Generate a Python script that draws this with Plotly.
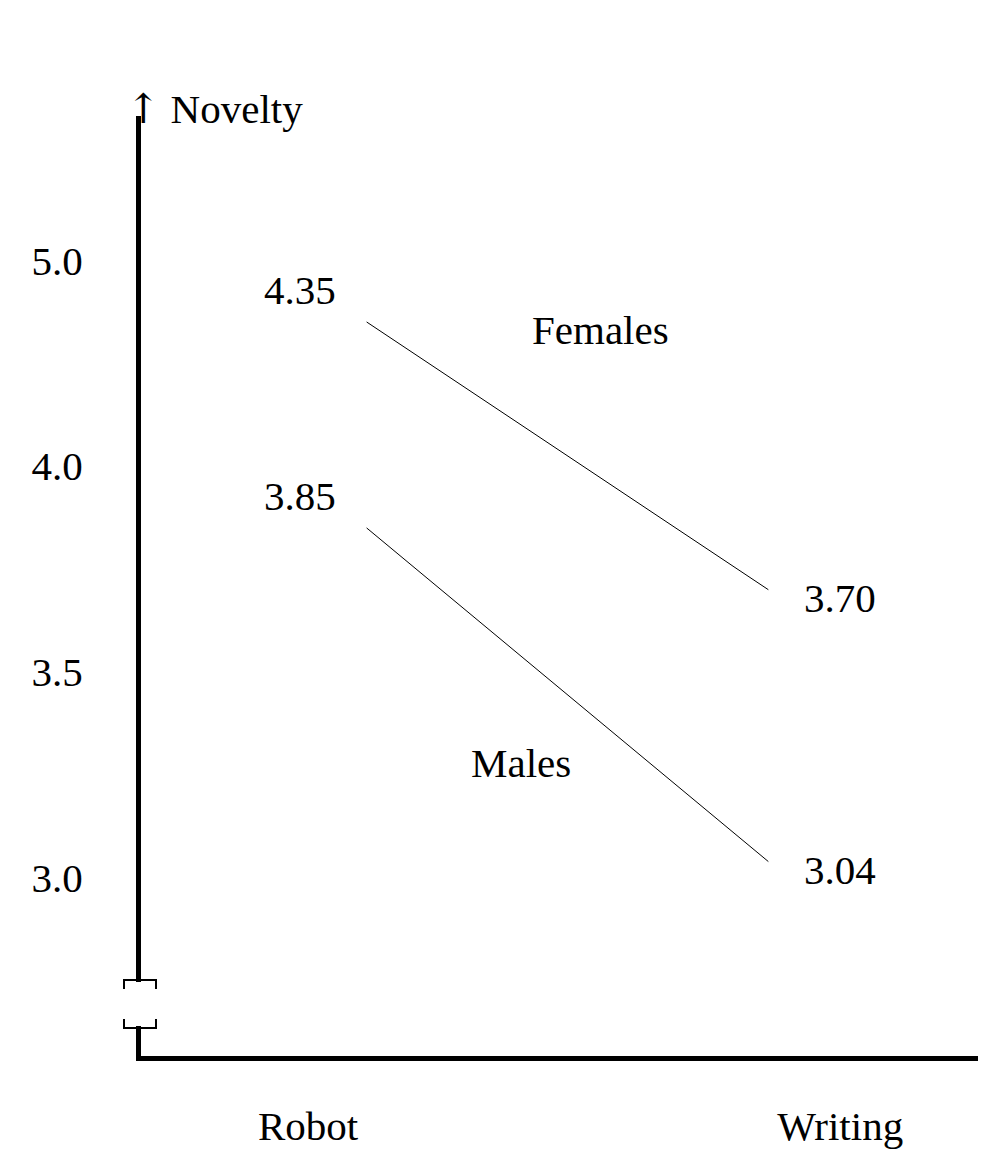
import plotly.graph_objects as go

categories = ["Robot", "Writing"]
females = [4.35, 3.70]
males = [3.85, 3.04]
tick_vals = [3.0, 3.5, 4.0, 4.5]
tick_text = ["3.0", "3.5", "4.0", "5.0"]

F = "Liberation Serif, Times New Roman, serif"
FS = 41
W, H = 1007, 1161
L, R, T, B = 133, 37, 108, 113
pw, ph = W - L - R, H - T - B

def px(x):
    return (x - L) / pw

def py(y):
    return (H - B - y) / ph

xi = [0, 1]
fig = go.Figure()
s0, s1 = 0.11, 0.865  # line span within category interval (style)
for vals, name, lx, ly in [(females, "Females", 0.55, 4.33), (males, "Males", 0.4, 3.28)]:
    fig.add_trace(go.Scatter(x=[xi[0] + s0, xi[0] + s1], y=[vals[0], vals[1]],
                             mode="lines", line=dict(color="black", width=1), showlegend=False))
    fig.add_annotation(x=lx, y=ly, text=name, showarrow=False, font=dict(family=F, size=FS, color="black"))
    fig.add_annotation(x=xi[0], y=vals[0], text=f"{vals[0]:.2f}", showarrow=False, xshift=-8, yshift=32,
                       font=dict(family=F, size=FS, color="black"))
    fig.add_annotation(x=xi[1], y=vals[1], text=f"{vals[1]:.2f}", showarrow=False, xshift=0, yshift=-8,
                       font=dict(family=F, size=FS, color="black"))

fig.add_annotation(x=px(116), y=py(75), xref="paper", yref="paper",
                   text="<span style='font-family:DejaVu Serif'>↑</span> Novelty", showarrow=False,
                   xanchor="left", font=dict(family=F, size=FS, color="black"))

# axis break
fig.add_shape(type="rect", xref="paper", yref="paper", x0=px(126), x1=px(140), y0=py(1018), y1=py(974),
              fillcolor="white", line=dict(width=0), layer="above")
for y, d in [(972, 9), (1020, -9)]:
    fig.add_shape(type="path", xref="paper", yref="paper", layer="above",
                  path=f"M {px(116)} {py(y+d)} L {px(116)} {py(y)} L {px(148)} {py(y)} L {px(148)} {py(y+d)}",
                  line=dict(color="black", width=2))

fig.update_layout(width=W, height=H, margin=dict(l=L, r=R, t=T, b=B), plot_bgcolor="white", paper_bgcolor="white",
                  showlegend=False,
                  xaxis=dict(range=[-0.314, 1.259], tickvals=xi, ticktext=categories, showgrid=False, zeroline=False,
                             showline=True, linewidth=5, linecolor="black", ticks="", ticklen=0,
                             tickfont=dict(family=F, size=FS, color="black")),
                  yaxis=dict(range=[2.568, 4.85], tickvals=tick_vals, ticktext=tick_text, showgrid=False, zeroline=False,
                             showline=True, linewidth=5, linecolor="black", ticks="",
                             tickfont=dict(family=F, size=FS, color="black")))
fig.update_xaxes(ticklabelstandoff=30)
fig.update_yaxes(ticklabelstandoff=45)
fig.write_html("out.html")
